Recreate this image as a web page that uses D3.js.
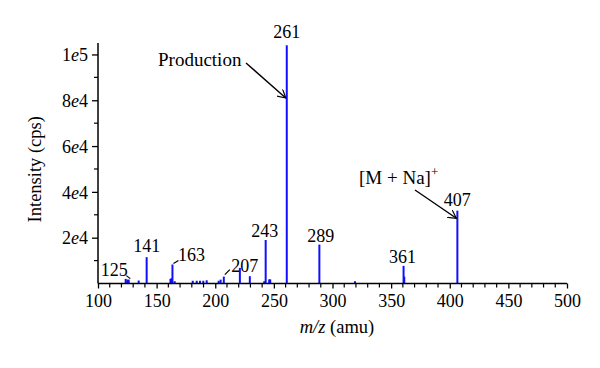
<!DOCTYPE html>
<html><head><meta charset="utf-8">
<script src="https://cdn.jsdelivr.net/npm/d3@7"></script>
<style>body{margin:0;background:#fff}svg{display:block}text{font-family:"Liberation Serif","DejaVu Serif",serif;fill:#000}</style>
</head><body><svg id="c" width="600" height="368"></svg>
<script>
const mz =        [123.6,125.0,126.2,134.7,141.5,161.8,162.6,163.5,165.4,180.8,184.2,187.0,189.8,192.7,202.9,204.6,207.3,221.0,229.5,241.8,243.0,246.0,246.9,261.0,288.8,319.2,360.6,361.2,406.5];
const intensity = [2000, 1700, 1700, 1300, 11500,2000, 2300, 8300, 1000, 1200, 1200, 1200, 1200, 1400, 1200, 1700, 3000, 6800, 3200, 1000, 19000,1800, 1800, 104000,17000,1000, 7700, 3000, 31800];
const xTicks = [100,150,200,250,300,350,400,450,500];
const yTicks = [20000,40000,60000,80000,100000];
const yTickLabels = [["2","4"],["4","4"],["6","4"],["8","4"],["1","5"]];
const peakLabels = ["125","141","163","207","243","261","289","361","407"];
const peakMz =     [125.0,141.5,163.5,207.3,243.0,261.0,288.8,360.6,406.5];
// label placement relative to the peak top (pixels)
const labelOff = [[-13,-4],[0,-5],[19,-3],[21,-5],[-1,-3],[0,-7],[1.5,-3],[-1,-3],[0,-5]];

const svg = d3.select("#c");
const x = d3.scaleLinear().domain([100,500]).range([98,567]);
const y = d3.scaleLinear().domain([0,105000]).range([283.5,43]);
const peakTop = m => { const i = mz.indexOf(m); return y(intensity[i]); };

// bars
svg.append("g").selectAll("line").data(mz).join("line")
  .attr("x1",(d)=>x(d)).attr("x2",(d)=>x(d))
  .attr("y1",y(0)).attr("y2",(d,i)=>y(intensity[i]))
  .attr("stroke","#1010ff").attr("stroke-width",2);

// x axis
const xa = svg.append("g").attr("transform",`translate(0,${y(0)})`)
  .call(d3.axisBottom(x).tickValues(xTicks).tickSize(5).tickPadding(6).tickFormat(d3.format("d")));
xa.select(".domain").attr("stroke","#000").attr("stroke-width",1.5).attr("d",`M${x(100)},0H${x(500)}`);
xa.selectAll(".tick line").attr("stroke","#000").attr("stroke-width",1.3);
xa.selectAll(".tick text").style("font-size","18px").style("font-family","Liberation Serif");
const xMinor = d3.range(100,501,10).filter(v=>v%50!==0);
svg.append("g").selectAll("line").data(xMinor).join("line")
  .attr("x1",d=>x(d)).attr("x2",d=>x(d)).attr("y1",y(0)).attr("y2",y(0)+4)
  .attr("stroke","#000").attr("stroke-width",1.2);

// y axis
const ya = svg.append("g").attr("transform",`translate(${x(100)},0)`)
  .call(d3.axisLeft(y).tickValues(yTicks).tickSize(6).tickPadding(6).tickFormat(""));
ya.select(".domain").attr("stroke","#000").attr("stroke-width",1.5).attr("d",`M0,${y(0)}V${y(105000)}`);
ya.selectAll(".tick line").attr("stroke","#000").attr("stroke-width",1.3);
ya.selectAll(".tick").each(function(d,i){
  const t = d3.select(this).append("text").attr("x",-10).attr("dy","0.34em")
    .attr("text-anchor","end").style("font-size","18px");
  t.append("tspan").text(yTickLabels[i][0]);
  t.append("tspan").style("font-style","italic").text("e");
  t.append("tspan").text(yTickLabels[i][1]);
});
const yMinor = d3.range(10000,105000,20000);
svg.append("g").selectAll("line").data(yMinor).join("line")
  .attr("x1",x(100)-4).attr("x2",x(100)).attr("y1",d=>y(d)).attr("y2",d=>y(d))
  .attr("stroke","#000").attr("stroke-width",1.2);

// axis titles
svg.append("text").attr("transform",`translate(41,${(y(0)+y(105000))/2+6}) rotate(-90)`)
  .attr("text-anchor","middle").style("font-size","18.5px").text("Intensity (cps)");
const xt = svg.append("text").attr("x",337).attr("y",333).attr("text-anchor","middle").style("font-size","18.5px");
xt.append("tspan").style("font-style","italic").text("m/z");
xt.append("tspan").text(" (amu)");

// peak labels
svg.append("g").selectAll("text").data(peakLabels).join("text")
  .attr("x",(d,i)=>x(peakMz[i])+labelOff[i][0])
  .attr("y",(d,i)=>peakTop(peakMz[i])+labelOff[i][1])
  .attr("text-anchor","middle").style("font-size","18px").text(d=>d);

// small leader lines
const leaders = [
  [x(125)-1,peakTop(125)-4,x(125)+3,peakTop(125)-1],
  [x(163.5)+6,peakTop(163.5)-4,x(163.5)+1,peakTop(163.5)-1],
  [x(207.3)+6,peakTop(207.3)-7,x(207.3)+1,peakTop(207.3)-2],
];
svg.append("g").selectAll("line").data(leaders).join("line")
  .attr("x1",d=>d[0]).attr("y1",d=>d[1]).attr("x2",d=>d[2]).attr("y2",d=>d[3])
  .attr("stroke","#000").attr("stroke-width",1.2);

// annotations with arrows
svg.append("defs").append("marker").attr("id","ah").attr("viewBox","0 0 10 10")
  .attr("refX",9).attr("refY",5).attr("markerWidth",9).attr("markerHeight",9).attr("orient","auto")
  .attr("markerUnits","userSpaceOnUse")
  .append("path").attr("d","M0,0L9,5L0,10").attr("fill","none").attr("stroke","#000").attr("stroke-width",1.3);

svg.append("text").attr("x",158).attr("y",66).style("font-size","19px").text("Production");
svg.append("line").attr("x1",246).attr("y1",63).attr("x2",x(261)-1).attr("y2",y(81000))
  .attr("stroke","#000").attr("stroke-width",1.4).attr("marker-end","url(#ah)");

const mn = svg.append("text").attr("x",359).attr("y",184).style("font-size","19px");
mn.append("tspan").text("[M + Na]");
mn.append("tspan").attr("dy",-8).style("font-size","13px").text("+");
svg.append("line").attr("x1",415).attr("y1",190).attr("x2",x(406.5)-1).attr("y2",y(28500))
  .attr("stroke","#000").attr("stroke-width",1.4).attr("marker-end","url(#ah)");
</script></body></html>
